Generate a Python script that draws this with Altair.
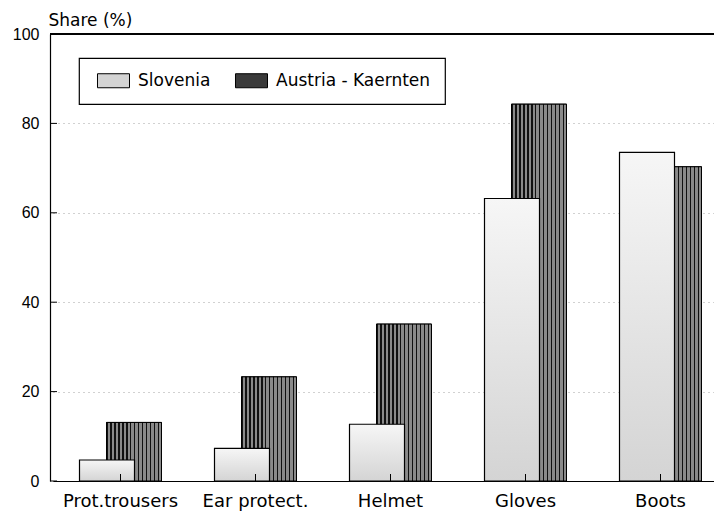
import altair as alt
import pandas as pd

categories = ["Prot.trousers", "Ear protect.", "Helmet", "Gloves", "Boots"]
series = ["Slovenia", "Austria - Kaernten"]
slovenia = [4.7, 7.3, 12.7, 63.2, 73.5]
austria = [13.1, 23.3, 35.1, 84.3, 70.3]
y_ticks = [0, 20, 40, 60, 80, 100]

df = pd.DataFrame({
    "category": categories * 2,
    "series": [series[0]] * len(categories) + [series[1]] * len(categories),
    "value": slovenia + austria,
})
cat_df = pd.DataFrame({"category": categories})
tick_df = pd.DataFrame({"t": y_ticks})

W, H = 664, 447
FONT = "DejaVu Sans"
NUMFONT = "Liberation Sans"

# stripe gradient for the hatched bars
n = 14
stops = []
for i in range(n):
    a = i / n
    b = (i + 0.35) / n
    c = (i + 1) / n
    stops += [alt.GradientStop(color="#111111", offset=a),
              alt.GradientStop(color="#111111", offset=b),
              alt.GradientStop(color="#8a8a8a", offset=b),
              alt.GradientStop(color="#8a8a8a", offset=c)]
hatch = alt.LinearGradient(gradient="linear", stops=stops, x1=0, x2=1, y1=0, y2=0)
stipple = alt.LinearGradient(gradient="linear",
                             stops=[alt.GradientStop(color="#f6f6f6", offset=0),
                                    alt.GradientStop(color="#d4d4d4", offset=1)],
                             x1=0, x2=0, y1=0, y2=1)

xscale = alt.Scale(domain=categories, range=[3, 678], paddingInner=0, paddingOuter=0)
yscale = alt.Scale(domain=[0, 100], nice=False)

X = alt.X("category:N", scale=xscale, sort=categories,
          axis=alt.Axis(title=None, labelAngle=0, labelFont=FONT, labelFontSize=18,
                        labelColor="black", ticks=False, domainColor="black",
                        domainWidth=1.2, labelPadding=11))
Y = alt.Y("value:Q", scale=yscale,
          axis=alt.Axis(values=y_ticks, title="Share (%)", titleAngle=0, titleAlign="left",
                        titleBaseline="alphabetic", titleX=-2, titleY=-9, titleFont=FONT,
                        titleFontSize=17, titleFontWeight="normal", titleColor="black",
                        labelFont=NUMFONT, labelFontSize=16, labelColor="black", ticks=False,
                        labelPadding=11, grid=True, gridDash=[1, 4], gridColor="#8a8a8a",
                        gridWidth=0.8, domainColor="black", domainWidth=1.2))

color = alt.Color("series:N", scale=alt.Scale(domain=series, range=["#d4d4d4", "#3a3a3a"]),
                  legend=alt.Legend(title=None, orient="none", legendX=29, legendY=24,
                                    direction="horizontal"))

aus_base = alt.Chart(df).transform_filter(alt.datum.series == series[1]).mark_bar(
    size=55, xOffset=13.5, stroke="black", strokeWidth=1).encode(x=X, y=Y, color=color)
aus_hatch = alt.Chart(df).transform_filter(alt.datum.series == series[1]).mark_bar(
    size=55, xOffset=13.5, fill=hatch, stroke="black", strokeWidth=1).encode(x=X, y=Y)
slo = alt.Chart(df).transform_filter(alt.datum.series == series[0]).mark_bar(
    size=55, xOffset=-13.5, fill=stipple, stroke="black", strokeWidth=1.2).encode(x=X, y=Y)

xticks = alt.Chart(cat_df).mark_rule(color="black", strokeWidth=1).encode(
    x=alt.X("category:N", scale=xscale, sort=categories), y=alt.value(H), y2=alt.value(H - 7))
yticks = alt.Chart(tick_df).mark_rule(color="black", strokeWidth=1).encode(
    y=alt.Y("t:Q", scale=yscale), x=alt.value(0), x2=alt.value(7))
top = alt.Chart(tick_df).mark_rule(color="black", strokeWidth=1.2).encode(
    y=alt.datum(100), x=alt.value(0), x2=alt.value(W))

chart = alt.layer(aus_base, aus_hatch, slo, xticks, yticks, top).properties(
    width=W, height=H,
    autosize=alt.AutoSizeParams(type="none"),
    padding={"left": 42, "top": 26, "right": 0, "bottom": 30},
    background="white",
).configure_view(stroke=None).configure_legend(
    strokeColor="black", strokeWidth=1.2, fillColor="white", padding=14,
    symbolType="M-2.667,-1.167H2.667V1.167H-2.667Z", symbolSize=144, symbolStrokeColor="black",
    symbolStrokeWidth=1, symbolOffset=12, labelOffset=16, columnPadding=20,
    labelFont=FONT, labelFontSize=17, labelColor="black", symbolOpacity=1,
)

chart.save("out.html", embed_options={"renderer": "svg", "actions": False})
